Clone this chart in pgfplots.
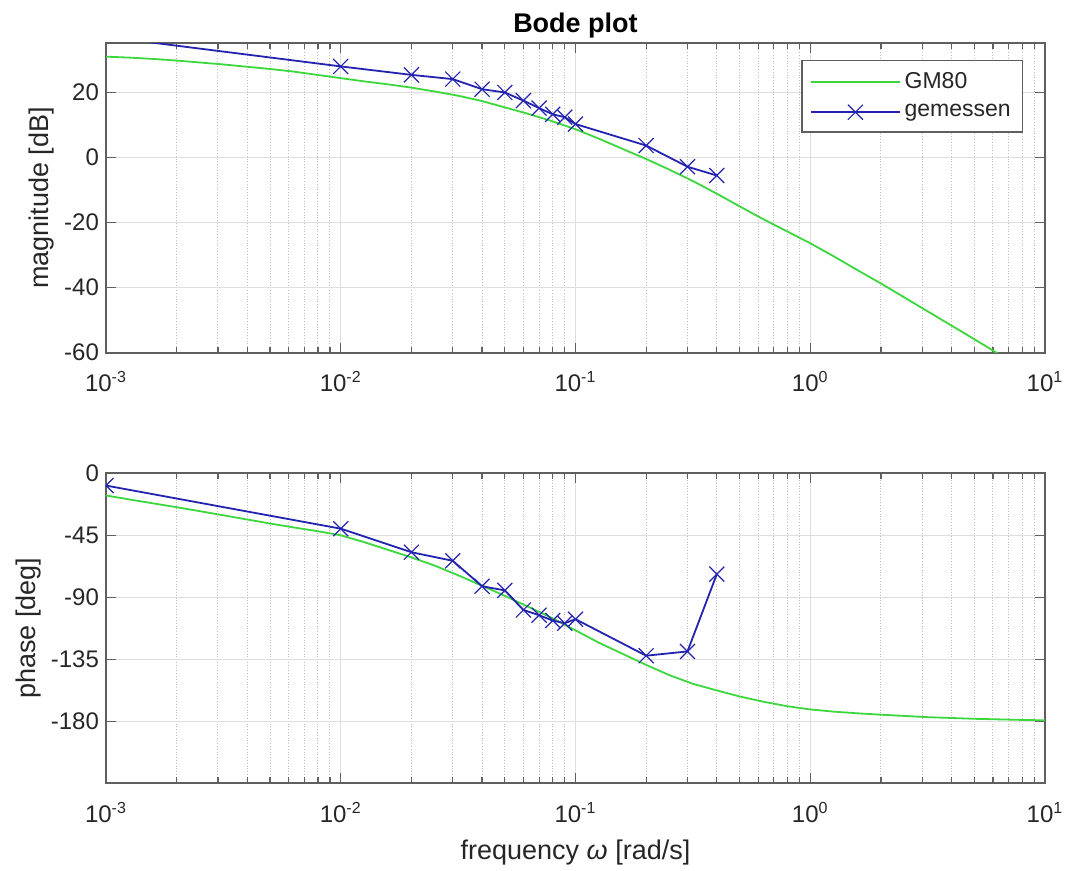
\documentclass[border=0pt]{standalone}
\usepackage{fontspec}
\setmainfont{Liberation Sans}
\usepackage{pgfplots}
\usepackage{pgfplotstable}
\pgfplotsset{compat=1.18}

\definecolor{gmgreen}{RGB}{60,215,60}
\definecolor{gmblue}{RGB}{35,35,175}
\definecolor{axgray}{RGB}{95,95,95}
\definecolor{txtgray}{RGB}{38,38,38}

\pgfplotstableread{
w          mag     ph
0.001      30.9    -16.1
0.0012589  30.6    -19.0
0.0015849  30.2    -21.8
0.0019953  29.7    -24.6
0.0025119  29.1    -27.5
0.0031623  28.5    -30.5
0.0039811  27.8    -33.5
0.0050119  27.1    -36.5
0.0063096  26.3    -39.3
0.0079433  25.3    -42.0
0.01       24.3    -45.0
0.012589   23.3    -50.0
0.015849   22.4    -55.5
0.019953   21.4    -61.0
0.025119   20.2    -67.0
0.031623   18.9    -74.0
0.039811   17.3    -81.5
0.050119   15.3    -89.0
0.063096   13.3    -97.0
0.079433   11.1    -105.0
0.1         8.6    -114.0
0.12589     5.7    -123.0
0.15849     2.6    -131.0
0.19953    -0.5    -139.0
0.25119    -3.8    -146.5
0.31623    -7.3    -152.8
0.39811   -11.1    -157.5
0.50119   -15.1    -162.0
0.63096   -19.0    -165.8
0.79433   -22.7    -169.0
1.0       -26.4    -171.4
1.2589    -30.4    -173.0
1.5849    -34.6    -174.2
1.9953    -38.7    -175.2
2.5119    -43.0    -176.1
3.1623    -47.3    -177.0
3.9811    -51.6    -177.6
5.0119    -55.9    -178.2
6.3096    -60.3    -178.6
7.9433    -64.6    -179.0
10.0      -69.0    -179.3
}\gmdata

\pgfplotstableread{
w      mag    ph
0.001  37.0   -8.9
0.01   27.9   -40.2
0.02   25.3   -57.3
0.03   24.0   -63.5
0.04   20.9   -82.0
0.05   19.9   -85.0
0.06   17.4   -99.2
0.07   15.1   -103.0
0.08   13.2   -106.9
0.09   12.3   -108.8
0.1    10.2   -105.9
0.2     3.6   -132.4
0.3    -2.9   -129.3
0.4    -5.6   -73.2
}\measdata

\begin{document}
\begin{tikzpicture}
\path[use as bounding box] (0,0) rectangle (533.5pt,435.5pt);

\begin{axis}[
  scale only axis,
  width=469.5pt, height=154.7pt,
  at={(53pt,259.15pt)}, anchor=south west,
  xmode=log, xmin=1e-3, xmax=10,
  xtick={1e-3,1e-2,1e-1,1,10},
  xticklabels={10\textsuperscript{-3},10\textsuperscript{-2},10\textsuperscript{-1},10\textsuperscript{0},10\textsuperscript{1}},
  xmajorgrids, ymajorgrids, xminorgrids,
  major grid style={draw=black!13, line width=0.5pt},
  minor grid style={draw=black!25, densely dotted, line width=0.5pt},
  axis line style={draw=axgray, line width=0.9pt},
  tick style={draw=axgray, line width=0.6pt},
  major tick length=5pt, minor tick length=3pt,
  tick align=inside,
  ticklabel style={font=\fontsize{12}{14}\selectfont, text=txtgray},
  xticklabel style={yshift=-6pt},
  label style={font=\fontsize{13.5}{16}\selectfont, text=txtgray},
  ylabel style={yshift=-2pt},
  clip marker paths=true,
  ymin=-60, ymax=35,
  ytick={-60,-40,-20,0,20},
  yticklabels={-60,-40,-20,0,20},
  ylabel={magnitude [dB]},
  title={Bode plot},
  title style={font=\bfseries\fontsize{13.5}{16}\selectfont, text=black, yshift=-7pt},
  legend style={at={(1,1)}, anchor=north east, xshift=-10.8pt, yshift=-8.3pt,
    draw=axgray, line width=0.6pt, fill=white,
    font=\fontsize{11.5}{13}\selectfont, text=txtgray,
    inner xsep=4pt, inner ysep=4pt, row sep=2.5pt},
  legend cell align=left,
  legend image code/.code={\draw[mark repeat=2,mark phase=2,#1] plot coordinates {(0cm,0cm) (0.78cm,0cm) (1.56cm,0cm)};},
]
\addplot[color=gmgreen, line width=0.9pt, mark=none] table[x=w, y=mag] {\gmdata};
\addlegendentry{GM80}
\addplot[color=gmblue, line width=0.9pt, mark=x, mark size=5.3pt, mark options={line width=0.6pt}] table[x=w, y=mag] {\measdata};
\addlegendentry{gemessen}
\end{axis}

\begin{axis}[
  scale only axis,
  width=469.5pt, height=155pt,
  at={(53pt,43.85pt)}, anchor=south west,
  xmode=log, xmin=1e-3, xmax=10,
  xtick={1e-3,1e-2,1e-1,1,10},
  xticklabels={10\textsuperscript{-3},10\textsuperscript{-2},10\textsuperscript{-1},10\textsuperscript{0},10\textsuperscript{1}},
  xmajorgrids, ymajorgrids, xminorgrids,
  major grid style={draw=black!13, line width=0.5pt},
  minor grid style={draw=black!25, densely dotted, line width=0.5pt},
  axis line style={draw=axgray, line width=0.9pt},
  tick style={draw=axgray, line width=0.6pt},
  major tick length=5pt, minor tick length=3pt,
  tick align=inside,
  ticklabel style={font=\fontsize{12}{14}\selectfont, text=txtgray},
  xticklabel style={yshift=-6pt},
  label style={font=\fontsize{13.5}{16}\selectfont, text=txtgray},
  ylabel style={yshift=-2pt},
  xlabel style={yshift=-2pt},
  clip marker paths=true,
  ymin=-225, ymax=0,
  ytick={-180,-135,-90,-45,0},
  yticklabels={-180,-135,-90,-45,0},
  ylabel={phase [deg]},
  xlabel={frequency \textit{ω} [rad/s]},
]
\addplot[color=gmgreen, line width=0.9pt, mark=none] table[x=w, y=ph] {\gmdata};
\addplot[color=gmblue, line width=0.9pt, mark=x, mark size=5.3pt, mark options={line width=0.6pt}] table[x=w, y=ph] {\measdata};
\end{axis}
\end{tikzpicture}
\end{document}
